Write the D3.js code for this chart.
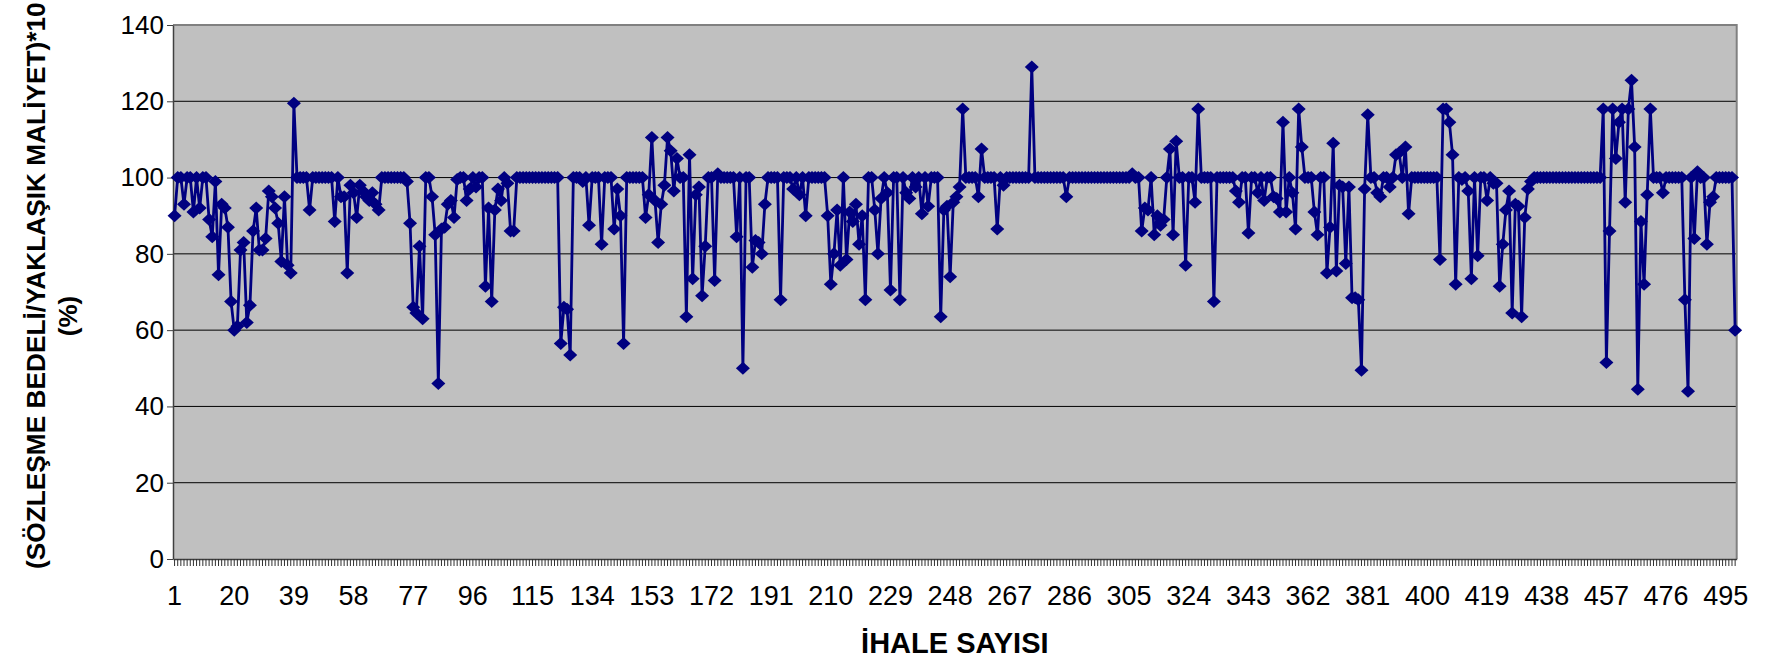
<!DOCTYPE html>
<html>
<head>
<meta charset="utf-8">
<script src="https://cdn.jsdelivr.net/npm/d3@7"></script>
<style>
  html, body { margin: 0; padding: 0; background: #ffffff; }
  svg { display: block; font-family: "Liberation Sans", Arial, sans-serif; }
</style>
</head>
<body>
<svg id="chart" width="1767" height="662"></svg>
<script>
// ---- DATA ----
const values = [
  90, 100, 100, 93, 100, 100, 91, 100, 92, 100,
  100, 89, 84.5, 99, 74.5, 93, 92, 87, 67.5, 60,
  61, 81, 83, 62, 66.5, 86, 92, 81, 81, 84,
  96.5, 95, 92, 88, 78, 95, 77, 75, 119.5, 100,
  100, 100, 100, 91.5, 100, 100, 100, 100, 100, 100,
  100, 88.5, 100, 95, 95, 75, 98, 96, 89.5, 98,
  96.5, 95, 94, 96, 93, 91.5, 100, 100, 100, 100,
  100, 100, 100, 100, 99, 88, 66, 64.5, 82, 63,
  100, 100, 95, 85, 46, 86.5, 87, 93, 94, 89.5,
  99.5, 100, 100, 94, 97, 100, 97.5, 100, 100, 71.5,
  92, 67.5, 91.5, 97, 94, 100, 98.5, 86, 86, 100,
  100, 100, 100, 100, 100, 100, 100, 100, 100, 100,
  100, 100, 100, 56.5, 66, 65.5, 53.5, 100, 100, 100,
  99, 100, 87.5, 100, 100, 100, 82.5, 100, 100, 100,
  86.5, 97, 90, 56.5, 100, 100, 100, 100, 100, 100,
  89.5, 95.5, 110.5, 94, 83, 93, 98, 110.5, 107, 96.5,
  105, 100, 100, 63.5, 106, 73.5, 95.5, 97.5, 69, 82,
  100, 100, 73, 101, 100, 100, 100, 100, 100, 84.5,
  100, 50, 100, 100, 76.5, 83.5, 83, 80, 93, 100,
  100, 100, 100, 68, 100, 100, 100, 97, 100, 95.5,
  100, 90, 100, 100, 100, 100, 100, 100, 90, 72,
  80, 91.5, 77, 100, 78.5, 91, 88.5, 93, 82.5, 90,
  68, 100, 100, 91.5, 80, 94.5, 100, 96, 70.5, 100,
  100, 68, 100, 96, 94.5, 100, 97.5, 100, 90.5, 100,
  92.5, 100, 100, 100, 63.5, 91.5, 92.5, 74, 93.5, 95,
  97.5, 118, 100, 100, 100, 100, 95, 107.5, 100, 100,
  100, 100, 86.5, 100, 98, 100, 100, 100, 100, 100,
  100, 100, 100, 129, 100, 100, 100, 100, 100, 100,
  100, 100, 100, 100, 95, 100, 100, 100, 100, 100,
  100, 100, 100, 100, 100, 100, 100, 100, 100, 100,
  100, 100, 100, 100, 100, 101, 100, 100, 86, 92,
  91.5, 100, 85, 90, 87.5, 89, 100, 107.5, 85, 109.5,
  100, 100, 77, 100, 100, 93.5, 118, 100, 100, 100,
  100, 67.5, 100, 100, 100, 100, 100, 100, 96.5, 93.5,
  100, 100, 85.5, 100, 100, 96, 100, 94, 100, 100,
  95, 94.5, 91, 114.5, 91, 100, 96, 86.5, 118, 108,
  100, 100, 100, 91, 85, 100, 100, 75, 87, 109,
  75.5, 98, 97.5, 77.5, 97.5, 68.5, 68.5, 68, 49.5, 97,
  116.5, 100, 100, 96, 95, 100, 100, 97.5, 100, 106,
  106.5, 100, 108, 90.5, 100, 100, 100, 100, 100, 100,
  100, 100, 100, 78.5, 118, 118, 114.5, 106, 72, 100,
  99.5, 100, 96.5, 73.5, 100, 79.5, 100, 100, 94, 100,
  98.5, 98.5, 71.5, 82.5, 91.5, 96.5, 64.5, 93, 92.5, 63.5,
  89.5, 97, 99, 100, 100, 100, 100, 100, 100, 100,
  100, 100, 100, 100, 100, 100, 100, 100, 100, 100,
  100, 100, 100, 100, 100, 118, 51.5, 86, 118, 105,
  114.5, 118, 93.5, 118, 125.5, 108, 44.5, 88.5, 72, 95.5,
  118, 100, 100, 100, 96, 100, 100, 100, 100, 100,
  100, 68, 44, 100, 84, 101.5, 100, 100, 82.5, 93.5,
  95, 100, 100, 100, 100, 100, 100, 60
];
const categories = values.map((v, i) => i + 1);
const xTickLabels = categories.filter(c => (c - 1) % 19 === 0);
const yTicks = [0, 20, 40, 60, 80, 100, 120, 140];
const yTitle = "(SÖZLEŞME BEDELİ/YAKLAŞIK MALİYET)*10";
const yTitle2 = "(%)";
const xTitle = "İHALE SAYISI";

// ---- LAYOUT ----
const pL = 173, pR = 1736.7, pT = 25, pB = 559;
const svg = d3.select("#chart");

const x = d3.scaleBand().domain(categories).range([pL, pR]).padding(0);
const y = d3.scaleLinear().domain([0, 140]).range([pB, pT]);
const cx = d => x(d) + x.bandwidth() / 2;

// plot background
svg.append("rect")
  .attr("x", pL).attr("y", pT)
  .attr("width", pR - pL).attr("height", pB - pT)
  .attr("fill", "#C0C0C0");

// gridlines
svg.append("g").selectAll("line")
  .data(yTicks.filter(t => t > 0 && t < 140))
  .join("line")
  .attr("x1", pL).attr("x2", pR)
  .attr("y1", d => y(d)).attr("y2", d => y(d))
  .attr("stroke", "#000").attr("stroke-width", 1);

// plot border (top / right)
svg.append("path")
  .attr("d", `M${pL},${pT}H${pR}V${pB}`)
  .attr("fill", "none").attr("stroke", "#808080").attr("stroke-width", 2);

// Y axis
const yAxis = svg.append("g")
  .attr("transform", `translate(${pL},0)`)
  .call(d3.axisLeft(y).tickValues(yTicks).tickSize(6).tickSizeOuter(0).tickPadding(3));
yAxis.select(".domain").attr("stroke", "#404040").attr("stroke-width", 1.5);
yAxis.selectAll(".tick line").attr("stroke", "#404040");
yAxis.selectAll("text").attr("font-size", 26).attr("fill", "#000")
  .attr("font-family", '"Liberation Sans", Arial, sans-serif');

// X axis
const xAxis = svg.append("g")
  .attr("transform", `translate(0,${pB})`)
  .call(d3.axisBottom(x).tickValues(categories).tickSize(7).tickSizeOuter(0).tickPadding(20)
    .tickFormat(d => xTickLabels.includes(d) ? d : ""));
xAxis.select(".domain").attr("stroke", "#404040").attr("stroke-width", 1.5);
xAxis.selectAll(".tick line").attr("stroke", "#303030").attr("stroke-width", 1);
xAxis.selectAll("text").attr("font-size", 27).attr("fill", "#000")
  .attr("font-family", '"Liberation Sans", Arial, sans-serif');

// line
const line = d3.line().x((d, i) => cx(categories[i])).y(d => y(d));
svg.append("path")
  .datum(values)
  .attr("d", line)
  .attr("fill", "none")
  .attr("stroke", "#000080")
  .attr("stroke-width", 2.8)
  .attr("stroke-linejoin", "round");

// diamond markers
const hw = 7, hh = 6.5;
svg.append("g").selectAll("path")
  .data(values)
  .join("path")
  .attr("transform", (d, i) => `translate(${cx(categories[i])},${y(d)})`)
  .attr("d", `M0,${-hh}L${hw},0L0,${hh}L${-hw},0Z`)
  .attr("fill", "#000080");

// axis titles
svg.append("text")
  .attr("x", (pL + pR) / 2).attr("y", 653)
  .attr("text-anchor", "middle")
  .attr("font-size", 29).attr("font-weight", "bold")
  .text(xTitle);

const yt = svg.append("text")
  .attr("transform", "translate(45,569) rotate(-90)")
  .attr("text-anchor", "start")
  .attr("font-size", 26).attr("font-weight", "bold")
  .text(yTitle);
const len = yt.node().getComputedTextLength();
yt.attr("font-size", 26 * 567 / len);

svg.append("text")
  .attr("transform", "translate(77,316) rotate(-90)")
  .attr("text-anchor", "middle")
  .attr("font-size", 26).attr("font-weight", "bold")
  .text(yTitle2);
</script>
</body>
</html>
